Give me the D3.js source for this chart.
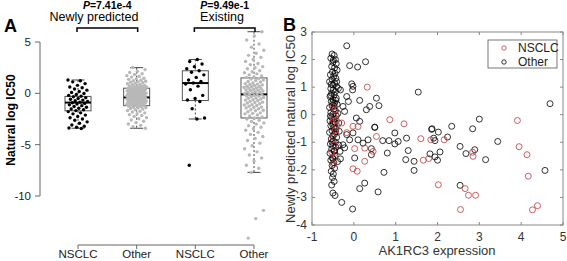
<!DOCTYPE html>
<html>
<head>
<meta charset="utf-8">
<script src="https://cdn.jsdelivr.net/npm/d3@7"></script>
<style>
  body { margin: 0; background: #fff; }
  text { font-family: "Liberation Sans", Arial, sans-serif; }
</style>
</head>
<body>
<script>
var w = 567;
var h = 261;

// ---- panel A data ----
var groups = ["NSCLC", "Other", "NSCLC", "Other"];
var nsclcNew = [1.3, 1.22, 1.12, 0.95, 0.78, 0.62, 0.55, 0.42, 0.31, 0.18, 0.08, -0.02, -0.12, -0.2, -0.28, -0.34, -0.42, -0.5, -0.58, -0.66, -0.72, -0.8, -0.86, -0.92, -0.98, -1.05, -1.12, -1.2, -1.28, -1.36, -1.45, -1.52, -1.6, -1.68, -1.78, -1.9, -2.0, -2.12, -2.25, -2.38, -2.5, -2.62, -2.78, -2.92, -3.08, -3.2, -3.3, -3.38, -3.42];
var otherNew = [2.52, 2.31, 2.14, 2.03, 1.91, 1.84, 1.72, 1.65, 1.58, 1.47, 1.41, 1.36, 1.28, 1.22, 1.17, 1.12, 1.09, 1.04, 0.98, 0.93, 0.87, 0.83, 0.78, 0.74, 0.71, 0.69, 0.65, 0.61, 0.57, 0.55, 0.53, 0.49, 0.46, 0.42, 0.38, 0.36, 0.35, 0.31, 0.28, 0.27, 0.24, 0.21, 0.17, 0.15, 0.13, 0.1, 0.07, 0.03, 0.02, 0.0, -0.03, -0.05, -0.06, -0.09, -0.12, -0.15, -0.18, -0.18, -0.21, -0.24, -0.25, -0.27, -0.3, -0.33, -0.36, -0.38, -0.38, -0.41, -0.44, -0.45, -0.47, -0.5, -0.53, -0.56, -0.58, -0.59, -0.62, -0.65, -0.65, -0.68, -0.71, -0.72, -0.74, -0.77, -0.8, -0.83, -0.85, -0.86, -0.9, -0.93, -0.95, -0.97, -1.0, -1.04, -1.05, -1.08, -1.12, -1.15, -1.16, -1.2, -1.25, -1.3, -1.35, -1.38, -1.41, -1.47, -1.53, -1.6, -1.67, -1.74, -1.82, -1.9, -1.98, -2.07, -2.16, -2.26, -2.37, -2.48, -2.6, -2.72, -2.85, -2.98, -3.12, -3.26, -3.4];
var nsclcEx = [3.3, 3.1, 2.85, 2.6, 2.4, 2.2, 2.05, 1.8, 1.55, 1.3, 1.15, 1.0, 0.9, 0.7, 0.35, -0.2, -0.5, -0.65, -0.8, -1.5, -2.4, -2.5, -7.0];
var otherEx = [6.0, 5.6, 5.2, 4.8, 4.5, 4.2, 3.9, 3.7, 3.5, 3.3, 3.1, 2.9, 2.8, 2.6, 2.5, 2.4, 2.2, 2.1, 2.0, 1.9, 1.8, 1.7, 1.6, 1.55, 1.45, 1.4, 1.3, 1.25, 1.15, 1.1, 1.0, 0.95, 0.9, 0.86, 0.82, 0.76, 0.7, 0.67, 0.64, 0.58, 0.52, 0.49, 0.46, 0.4, 0.34, 0.31, 0.28, 0.22, 0.16, 0.12, 0.1, 0.04, -0.02, -0.05, -0.08, -0.14, -0.2, -0.24, -0.27, -0.34, -0.41, -0.45, -0.48, -0.55, -0.62, -0.66, -0.7, -0.78, -0.86, -0.9, -0.94, -1.02, -1.1, -1.14, -1.18, -1.26, -1.34, -1.38, -1.42, -1.5, -1.6, -1.65, -1.7, -1.8, -1.9, -1.95, -2.0, -2.1, -2.2, -2.3, -2.4, -2.5, -2.62, -2.75, -2.88, -3.0, -3.15, -3.3, -3.45, -3.6, -3.8, -4.0, -4.2, -4.4, -4.6, -4.85, -5.1, -5.4, -5.7, -6.0, -6.3, -6.6, -7.0, -7.3, -7.7, -11.4, -12.2, -14.1];
var pointSets = [nsclcNew, otherNew, nsclcEx, otherEx];

// box stats: [whiskLo, q1, median, q3, whiskHi]
var boxStats = [
  [-3.4, -1.7, -0.9, -0.3, 1.3],
  [-3.4, -1.2, -0.4, 0.5, 2.5],
  [-2.5, -0.7, 1.0, 2.2, 3.3],
  [-7.7, -2.4, -0.1, 1.5, 6.0]
];
var yTicksA = [5, 0, -5, -10];
var brackets = [
  { label: "Newly predicted", p: "=7.41e-4", from: 0, to: 1 },
  { label: "Existing", p: "=9.49e-1", from: 2, to: 3 }
];

// ---- panel B data ----
var nsclcPts = [
  [-0.5, 0.3], [-0.45, 0.18], [-0.48, -0.05], [-0.52, -0.3], [-0.44, -0.55], [-0.5, -0.8],
  [-0.47, -1.1], [-0.53, -1.35], [-0.46, -1.55], [-0.49, -1.8], [-0.42, -0.2], [-0.4, -0.42],
  [-0.29, -0.3], [0.1, -0.43], [-0.17, -0.65], [-0.02, -0.42], [0.32, 1.0], [0.86, -0.18],
  [1.2, -0.33], [3.91, -0.21], [1.6, -0.87], [1.84, -0.91], [2.16, -0.91], [1.66, -1.65],
  [1.79, -1.59], [2.84, -1.36], [2.85, -1.51], [3.95, -1.16], [4.14, -1.45], [4.17, -2.23],
  [2.02, -2.54], [2.66, -2.68], [2.74, -2.92], [2.91, -2.92], [2.55, -3.44], [4.27, -3.45],
  [4.39, -3.3], [0.54, -0.79], [0.46, -1.33], [0.26, -1.21], [0.02, -1.23], [0.26, -1.69],
  [-0.02, -1.96], [0.08, -2.05]
];
var otherPts = [
  [-0.52, 2.2], [-0.47, 2.15], [-0.55, 2.05], [-0.44, 2.0], [-0.49, 1.98], [-0.5, 1.9], [-0.42, 1.85],
  [-0.53, 1.75], [-0.46, 1.7], [-0.4, 1.62], [-0.51, 1.55], [-0.45, 1.5], [-0.56, 1.45], [-0.48, 1.4],
  [-0.43, 1.32], [-0.52, 1.28], [-0.41, 1.2], [-0.58, 1.2], [-0.46, 1.15], [-0.54, 1.1], [-0.5, 1.08],
  [-0.41, 1.02], [-0.55, 0.95], [-0.37, 0.95], [-0.49, 0.9], [-0.44, 0.84], [-0.53, 0.78], [-0.47, 0.72],
  [-0.55, 0.7], [-0.57, 0.66], [-0.42, 0.6], [-0.5, 0.55], [-0.43, 0.52], [-0.54, 0.48], [-0.5, 0.45],
  [-0.46, 0.42], [-0.4, 0.38], [-0.52, 0.32], [-0.47, 0.3], [-0.58, 0.26], [-0.48, 0.2], [-0.44, 0.14],
  [-0.55, 0.08], [-0.38, 0.05], [-0.5, 0.02], [-0.42, -0.04], [-0.56, -0.05], [-0.53, -0.1], [-0.47, -0.16],
  [-0.57, -0.22], [-0.45, -0.28], [-0.49, -0.3], [-0.36, -0.3], [-0.51, -0.34], [-0.55, -0.4], [-0.48, -0.46],
  [-0.43, -0.52], [-0.52, -0.58], [-0.35, -0.6], [-0.44, -0.62], [-0.58, -0.64], [-0.46, -0.7], [-0.5, -0.76],
  [-0.41, -0.82], [-0.54, -0.88], [-0.49, -0.94], [-0.44, -1.0], [-0.52, -1.0], [-0.56, -1.06], [-0.36, -1.1],
  [-0.5, -1.12], [-0.43, -1.18], [-0.53, -1.25], [-0.46, -1.3], [-0.47, -1.32], [-0.57, -1.4], [-0.45, -1.48],
  [-0.51, -1.56], [-0.5, -1.6], [-0.55, -1.65], [-0.39, -1.7], [-0.48, -1.74], [-0.52, -1.84], [-0.46, -1.94],
  [-0.54, -2.05], [-0.49, -2.15], [-0.51, -2.28], [-0.47, -2.42], [-0.53, -2.55], [-0.5, -2.84], [-0.45, -2.93],
  [-0.17, 2.5], [-0.1, 1.78], [0.09, 1.73], [0.28, 1.92], [-0.05, 1.12], [-0.02, 1.03], [-0.32, 0.9],
  [-0.03, 0.9], [0.54, 0.6], [0.6, 0.33], [0.14, 0.52], [0.38, 0.3], [0.3, 0.18], [-0.17, 0.66],
  [-0.13, 0.48], [-0.26, 0.3], [-0.22, 0.12], [0.5, -0.45], [0.06, -0.12], [0.14, -0.24], [1.54, 0.82],
  [1.87, -0.51], [2.34, -0.42], [2.84, -0.51], [3.0, -0.16], [4.69, 0.4], [0.98, -0.66], [1.06, -0.97],
  [1.26, -0.85], [1.86, -0.53], [2.02, -0.63], [1.91, -0.85], [1.94, -0.94], [2.24, -0.81], [3.44, -0.97],
  [0.98, -1.06], [1.3, -1.3], [1.24, -1.63], [1.44, -1.69], [1.44, -2.02], [1.82, -1.42], [1.94, -1.53],
  [2.06, -1.35], [2.0, -1.65], [2.54, -1.15], [2.68, -1.41], [2.89, -1.27], [3.15, -1.63], [4.57, -2.02],
  [2.54, -2.56], [0.5, -0.46], [0.34, -0.91], [0.1, -0.91], [-0.1, -0.91], [0.22, -1.03], [-0.17, -0.72],
  [-0.02, -0.66], [0.42, -1.23], [0.42, -1.45], [0.69, -0.94], [0.84, -0.94], [0.8, -1.39], [0.02, -1.57],
  [0.72, -2.09], [0.26, -2.48], [0.14, -2.68], [0.58, -2.8], [-0.29, -3.18], [-0.03, -3.42],
  [-0.26, -1.09], [-0.22, -1.2], [-0.33, -1.33], [-0.32, -1.6]
];
var xTicksB = [-1, 0, 1, 2, 3, 4, 5];
var yTicksB = [-4, -3, -2, -1, 0, 1, 2, 3];

var svg = d3.select("body")
    .append("svg")
    .attr("width", w)
    .attr("height", h);

// ================= Panel A =================
var xA = d3.scalePoint()
    .domain(d3.range(groups.length))
    .range([78, 254]);

var yA = d3.scaleLinear()
    .domain([5, -10])
    .range([42, 196]);

var gA = svg.append("g");

// y axis (R style)
gA.append("line")
    .attr("x1", 40).attr("x2", 40)
    .attr("y1", yA(5)).attr("y2", yA(-10))
    .attr("stroke", "#666");
gA.selectAll(".ytA")
    .data(yTicksA)
    .enter()
    .append("line")
    .attr("x1", 35).attr("x2", 40)
    .attr("y1", function (d) { return yA(d); })
    .attr("y2", function (d) { return yA(d); })
    .attr("stroke", "#666");
gA.selectAll(".ylA")
    .data(yTicksA)
    .enter()
    .append("text")
    .attr("x", 31)
    .attr("y", function (d) { return yA(d) + 4; })
    .attr("text-anchor", "end")
    .attr("font-size", 11.5)
    .attr("fill", "#222")
    .text(function (d) { return d; });

// x axis
gA.append("line")
    .attr("x1", xA(0)).attr("x2", xA(3))
    .attr("y1", 245).attr("y2", 245)
    .attr("stroke", "#666");
gA.selectAll(".xtA")
    .data(groups)
    .enter()
    .append("line")
    .attr("x1", function (d, i) { return xA(i); })
    .attr("x2", function (d, i) { return xA(i); })
    .attr("y1", 245).attr("y2", 249)
    .attr("stroke", "#666");
gA.selectAll(".xlA")
    .data(groups)
    .enter()
    .append("text")
    .attr("x", function (d, i) { return xA(i); })
    .attr("y", 258)
    .attr("text-anchor", "middle")
    .attr("font-size", 11.5)
    .attr("fill", "#222")
    .text(function (d) { return d; });

// boxes
var boxW = 26;
var boxes = gA.selectAll(".box")
    .data(boxStats)
    .enter()
    .append("g");

boxes.append("line") // upper whisker
    .attr("x1", function (d, i) { return xA(i); })
    .attr("x2", function (d, i) { return xA(i); })
    .attr("y1", function (d) { return yA(d[4]); })
    .attr("y2", function (d) { return yA(d[3]); })
    .attr("stroke", "#444").attr("stroke-dasharray", "2,2");
boxes.append("line") // lower whisker
    .attr("x1", function (d, i) { return xA(i); })
    .attr("x2", function (d, i) { return xA(i); })
    .attr("y1", function (d) { return yA(d[1]); })
    .attr("y2", function (d) { return yA(d[0]); })
    .attr("stroke", "#444").attr("stroke-dasharray", "2,2");
[0, 4].forEach(function (k) {
    boxes.append("line")
        .attr("x1", function (d, i) { return xA(i) - boxW / 4; })
        .attr("x2", function (d, i) { return xA(i) + boxW / 4; })
        .attr("y1", function (d) { return yA(d[k]); })
        .attr("y2", function (d) { return yA(d[k]); })
        .attr("stroke", "#444");
});
boxes.append("rect")
    .attr("x", function (d, i) { return xA(i) - boxW / 2; })
    .attr("y", function (d) { return yA(d[3]); })
    .attr("width", boxW)
    .attr("height", function (d) { return yA(d[1]) - yA(d[3]); })
    .attr("fill", "none")
    .attr("stroke", "#555");
boxes.append("line")
    .attr("x1", function (d, i) { return xA(i) - boxW / 2; })
    .attr("x2", function (d, i) { return xA(i) + boxW / 2; })
    .attr("y1", function (d) { return yA(d[2]); })
    .attr("y2", function (d) { return yA(d[2]); })
    .attr("stroke", "#000")
    .attr("stroke-width", 2);

// jittered points (deterministic jitter from index)
pointSets.forEach(function (vals, gi) {
    gA.selectAll(".pt" + gi)
        .data(vals)
        .enter()
        .append("circle")
        .attr("cx", function (d, i) { return xA(gi) + (((i * 0.618034 + gi * 0.3) % 1) - 0.5) * 20; })
        .attr("cy", function (d) { return yA(d); })
        .attr("r", 1.7)
        .attr("fill", gi % 2 === 0 ? "#000" : "#b8b8b8");
});

// brackets and p-values
brackets.forEach(function (b) {
    var x1 = xA(b.from) - 1, x2 = xA(b.to) + 1;
    gA.append("path")
        .attr("d", "M" + x1 + ",32V28H" + x2 + "V32")
        .attr("fill", "none")
        .attr("stroke", "#000")
        .attr("stroke-width", 1.5);
    var t = gA.append("text")
        .attr("x", (x1 + x2) / 2)
        .attr("y", 9)
        .attr("text-anchor", "middle")
        .attr("font-size", 10.5)
        .attr("font-weight", "bold");
    t.append("tspan").attr("font-style", "italic").text("P");
    t.append("tspan").text(b.p);
    gA.append("text")
        .attr("x", b.from === 0 ? 94 : 222)
        .attr("y", 21)
        .attr("text-anchor", "middle")
        .attr("font-size", 12.5)
        .text(b.label);
});

gA.append("text")
    .attr("x", 4).attr("y", 32)
    .attr("font-size", 18).attr("font-weight", "bold")
    .text("A");
gA.append("text")
    .attr("transform", "translate(15,120) rotate(-90)")
    .attr("text-anchor", "middle")
    .attr("font-size", 12)
    .attr("font-weight", "bold")
    .text("Natural log IC50");

// ================= Panel B =================
var xB = d3.scaleLinear().domain([-1, 5]).range([312, 563]);
var yB = d3.scaleLinear().domain([-4, 3]).range([225, 32]);
var gB = svg.append("g");

gB.append("rect")
    .attr("x", xB(-1)).attr("y", yB(3))
    .attr("width", xB(5) - xB(-1))
    .attr("height", yB(-4) - yB(3))
    .attr("fill", "none")
    .attr("stroke", "#888");

// inward ticks on all four sides
xTicksB.forEach(function (t) {
    gB.append("line").attr("x1", xB(t)).attr("x2", xB(t))
        .attr("y1", yB(-4)).attr("y2", yB(-4) - 3).attr("stroke", "#888");
    gB.append("line").attr("x1", xB(t)).attr("x2", xB(t))
        .attr("y1", yB(3)).attr("y2", yB(3) + 3).attr("stroke", "#888");
});
yTicksB.forEach(function (t) {
    gB.append("line").attr("x1", xB(-1)).attr("x2", xB(-1) + 3)
        .attr("y1", yB(t)).attr("y2", yB(t)).attr("stroke", "#888");
    gB.append("line").attr("x1", xB(5)).attr("x2", xB(5) - 3)
        .attr("y1", yB(t)).attr("y2", yB(t)).attr("stroke", "#888");
});
gB.selectAll(".xlB")
    .data(xTicksB)
    .enter()
    .append("text")
    .attr("x", function (d) { return xB(d); })
    .attr("y", 241)
    .attr("text-anchor", "middle")
    .attr("font-size", 12)
    .attr("fill", "#333")
    .text(function (d) { return d; });
gB.selectAll(".ylB")
    .data(yTicksB)
    .enter()
    .append("text")
    .attr("x", 307)
    .attr("y", function (d) { return yB(d) + 4; })
    .attr("text-anchor", "end")
    .attr("font-size", 12)
    .attr("fill", "#333")
    .text(function (d) { return d; });

gB.append("text")
    .attr("x", 437).attr("y", 255)
    .attr("text-anchor", "middle")
    .attr("font-size", 13)
    .attr("fill", "#333")
    .text("AK1RC3 expression");
gB.append("text")
    .attr("transform", "translate(295,129) rotate(-90)")
    .attr("text-anchor", "middle")
    .attr("font-size", 13)
    .attr("fill", "#333")
    .text("Newly predicted natural log IC50");

var red = "#c0393b";
gB.selectAll(".other")
    .data(otherPts)
    .enter()
    .append("circle")
    .attr("cx", function (d) { return xB(d[0]); })
    .attr("cy", function (d) { return yB(d[1]); })
    .attr("r", 3)
    .attr("fill", "none")
    .attr("stroke", "#000")
    .attr("stroke-width", 0.8);
gB.selectAll(".nsclc")
    .data(nsclcPts)
    .enter()
    .append("circle")
    .attr("cx", function (d) { return xB(d[0]); })
    .attr("cy", function (d) { return yB(d[1]); })
    .attr("r", 3)
    .attr("fill", "none")
    .attr("stroke", red)
    .attr("stroke-width", 0.8);

// legend
var lg = gB.append("g");
lg.append("rect")
    .attr("x", 488).attr("y", 40)
    .attr("width", 69).attr("height", 28)
    .attr("fill", "#fff")
    .attr("stroke", "#555")
    .attr("stroke-width", 0.8);
[["NSCLC", red, 48], ["Other", "#000", 62]].forEach(function (e) {
    lg.append("circle")
        .attr("cx", 504).attr("cy", e[2])
        .attr("r", 2.2)
        .attr("fill", "none")
        .attr("stroke", e[1])
        .attr("stroke-width", 0.8);
    lg.append("text")
        .attr("x", 518).attr("y", e[2] + 4)
        .attr("font-size", 12)
        .attr("fill", "#222")
        .text(e[0]);
});

gB.append("text")
    .attr("x", 283).attr("y", 31)
    .attr("font-size", 18).attr("font-weight", "bold")
    .text("B");
</script>
</body>
</html>
